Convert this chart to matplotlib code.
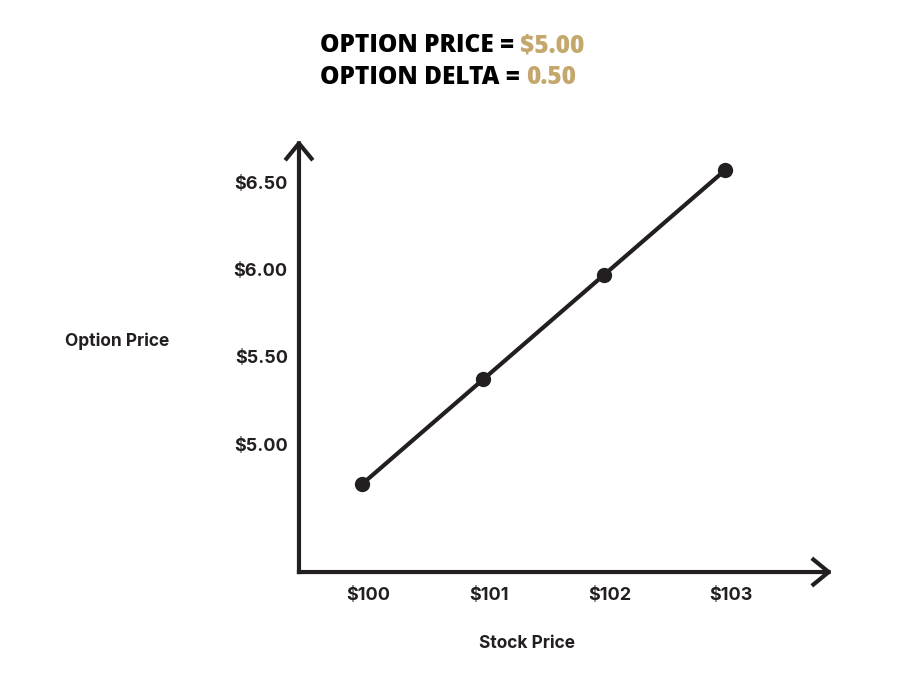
import matplotlib.pyplot as plt
from matplotlib.transforms import ScaledTranslation

stock_prices = [100, 101, 102, 103]
option_prices = [4.77, 5.37, 5.97, 6.57]
x_labels = ["$100", "$101", "$102", "$103"]
y_ticks = [5.0, 5.5, 6.0, 6.5]
y_labels = ["$5.00", "$5.50", "$6.00", "$6.50"]

ink = "#231f20"
gold = "#c4a76c"
tick_font = "Inter"
title_font = "Open Sans"

fig = plt.figure(figsize=(9, 6.76), dpi=100)
ax = fig.add_axes([0.3322, 0.1538, 0.5922, 0.639])
ax.set_xlim(99.48, 103.88)
ax.set_ylim(4.267, 6.741)

ax.plot(stock_prices, option_prices, color=ink, lw=3, marker="o",
        markersize=10, solid_capstyle="round", zorder=3)

for s in ax.spines.values():
    s.set_visible(False)

# axis arrows
arrow = dict(arrowstyle="->,head_length=0.55,head_width=0.45", color=ink,
             lw=3, shrinkA=0, shrinkB=0, mutation_scale=20, joinstyle="round",
             capstyle="projecting")
ax.annotate("", xy=(0, 1), xytext=(0, 0), xycoords="axes fraction",
            arrowprops=arrow)
ax.annotate("", xy=(1, 0), xytext=(0, 0), xycoords="axes fraction",
            arrowprops=arrow)

ax.set_xticks(stock_prices)
ax.set_xticklabels(x_labels)
ax.set_yticks(y_ticks)
ax.set_yticklabels(y_labels)
ax.tick_params(length=0, labelsize=13, colors=ink)
ax.tick_params(axis="x", pad=11)
ax.tick_params(axis="y", pad=8)
for lab in ax.get_xticklabels():
    lab.set_fontfamily(tick_font)
    lab.set_fontweight("bold")
    lab.set_transform(lab.get_transform() + ScaledTranslation(6 / 100, 0, fig.dpi_scale_trans))
for lab in ax.get_yticklabels():
    lab.set_fontfamily(tick_font)
    lab.set_fontweight("bold")

fig.text(65 / 900, 1 - 341 / 676, "Option Price", fontsize=12.5, fontweight="bold",
         family=tick_font, color=ink, ha="left", va="center")
fig.text(527 / 900, 1 - 643 / 676, "Stock Price", fontsize=12.5, fontweight="bold",
         family=tick_font, color=ink, ha="center", va="center")

# two-colour title lines, left aligned
title_lines = [("OPTION PRICE = ", "$5.00", 46), ("OPTION DELTA = ", "0.50", 77)]
renderer = fig.canvas.get_renderer()
for black, coloured, ypix in title_lines:
    t1 = fig.text(320 / 900, 1 - ypix / 676, black, fontsize=17.6, fontweight="heavy",
                  family=title_font, color="black", ha="left", va="center")
    w1 = t1.get_window_extent(renderer).width
    fig.text((320 + w1) / 900, 1 - ypix / 676, coloured, fontsize=17.6,
             fontweight="heavy", family=title_font, color=gold, ha="left",
             va="center")

fig.savefig("out.png", dpi=100, facecolor="white")
